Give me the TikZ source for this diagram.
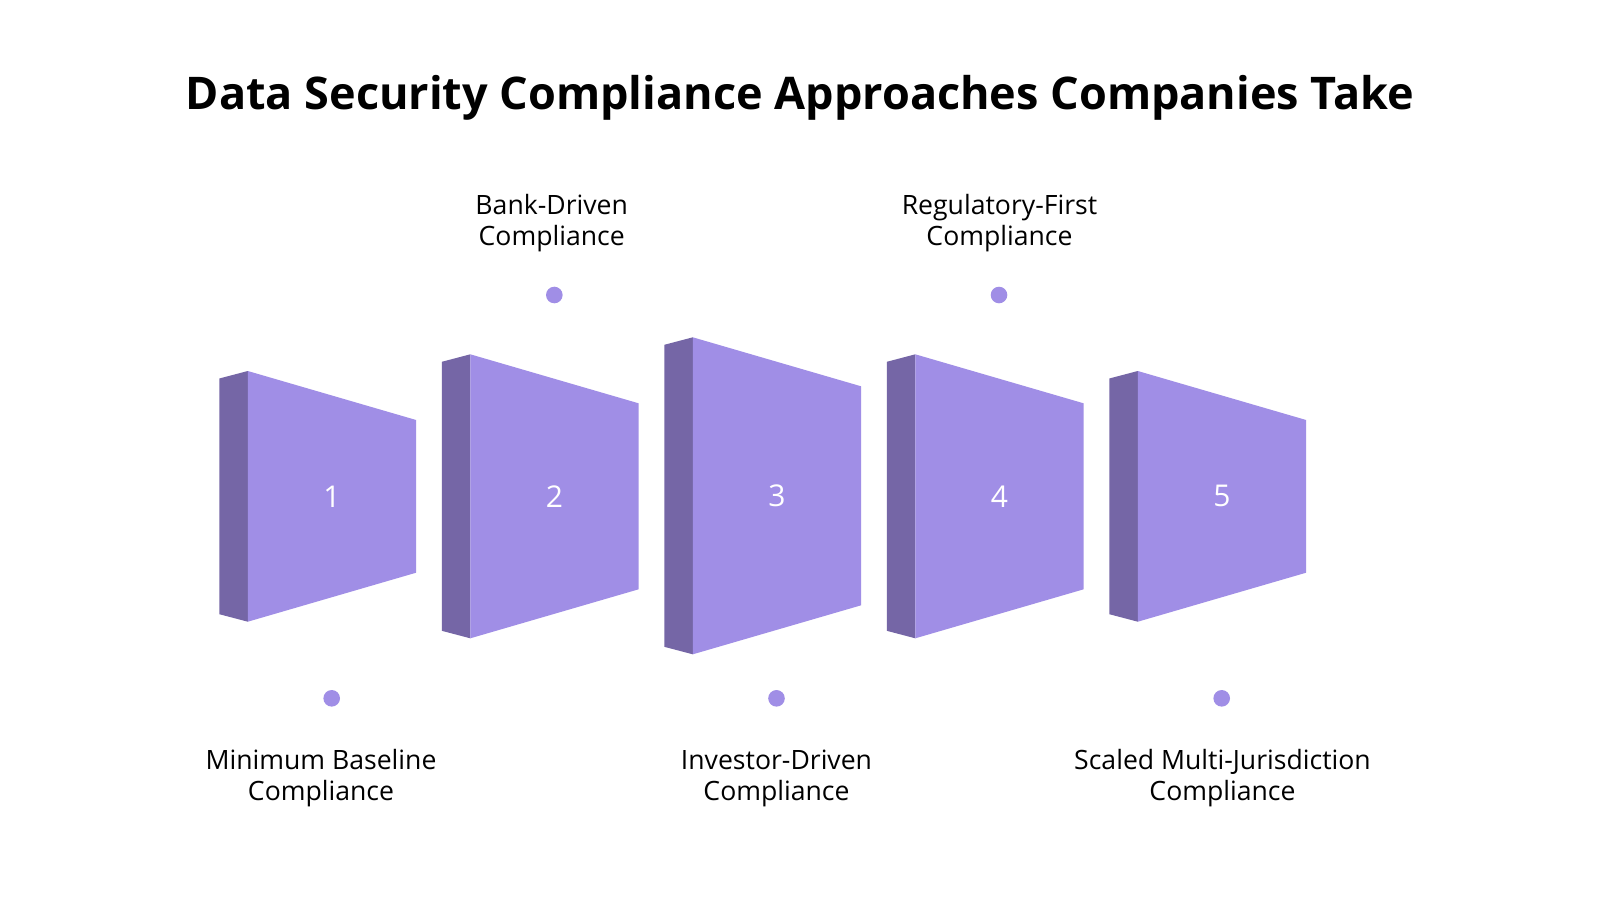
\documentclass[tikz,border=0pt]{standalone}
\usepackage{fontspec}
\setmainfont{Open Sans}
\definecolor{frontc}{HTML}{A08EE6}
\definecolor{sidec}{HTML}{7566A6}
\definecolor{dotc}{HTML}{A08EE6}
\begin{document}
\begin{tikzpicture}[x=1pt,y=-1pt,
  titletext/.style={font=\fontsize{45}{52}\selectfont\bfseries, text=black, inner sep=0pt, anchor=base},
  lbltext/.style={font=\fontsize{26.6}{31}\selectfont, text=black, align=center, inner sep=0pt, anchor=base},
  numtext/.style={font=\fontsize{30}{34}\selectfont, text=white, inner sep=0pt},
  dotnode/.style={circle, fill=dotc, minimum size=16.6pt, inner sep=0pt},
  facefill/.style={fill=frontc},
  sidefill/.style={fill=sidec}]
\useasboundingbox (0,0) rectangle (1600,900);
\fill[white] (0,0) rectangle (1600,900);
\node[titletext] (title) at (800,109) {Data Security Compliance Approaches Companies Take};
% slabs: index / dark-left x / front top y / front bottom y
\foreach \i/\xd/\yt/\yb in {1/219.3/371/621.7, 2/441.8/354.3/638.3, 3/664.3/337.3/654.3, 4/886.8/354.3/638.3, 5/1109.3/371/621.7}{
  \pgfmathsetmacro\xf{\xd+28.5}
  \pgfmathsetmacro\xr{\xf+168.3}
  \fill[sidefill] (\xd,\yt+7.5) -- (\xf,\yt) -- (\xf,\yb) -- (\xd,\yb-7.5) -- cycle;
  \fill[facefill] (\xf,\yt) -- (\xr,\yt+49) -- (\xr,\yb-49) -- (\xf,\yb) -- cycle;
  \node[numtext] (n\i) at ({\xf+84.2},{(\yt+\yb)/2}) {\i};
}
% dots
\node[dotnode] (d1) at (331.7,698.3) {};
\node[dotnode] (d2) at (554.3,295) {};
\node[dotnode] (d3) at (776.5,698.3) {};
\node[dotnode] (d4) at (999,295) {};
\node[dotnode] (d5) at (1221.7,698.3) {};
% labels (anchor = baseline of last line)
\node[lbltext] (l1) at (321,800.7) {Minimum Baseline\\Compliance};
\node[lbltext] (l2) at (551.7,245.7) {Bank-Driven\\Compliance};
\node[lbltext] (l3) at (776.5,800.7) {Investor-Driven\\Compliance};
\node[lbltext] (l4) at (999.5,245.7) {Regulatory-First\\Compliance};
\node[lbltext] (l5) at (1222.5,800.7) {Scaled Multi-Jurisdiction\\Compliance};
\end{tikzpicture}
\end{document}
